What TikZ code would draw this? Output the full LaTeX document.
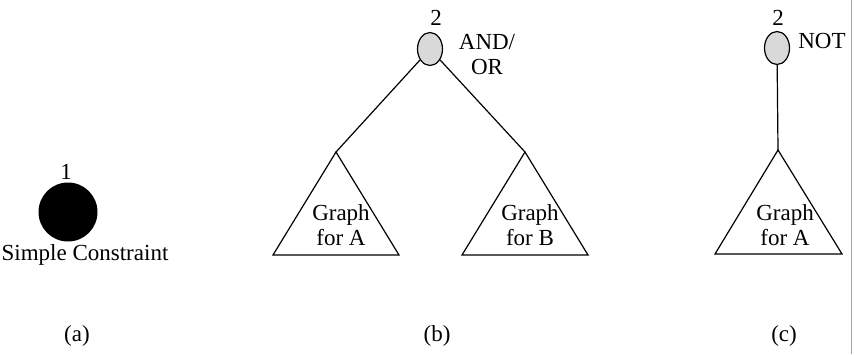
\documentclass[tikz,border=0pt]{standalone}
\usepackage{fontspec}
\setmainfont{Liberation Serif}
\usetikzlibrary{shapes.geometric}

\begin{document}
\begin{tikzpicture}[x=0.5pt,y=-0.5pt,line width=0.6pt,font=\fontsize{11.5}{12.5}\selectfont,
  opnode/.style={ellipse,draw,fill=gray!30,minimum width=12.5pt,minimum height=16.5pt,inner sep=0pt},
  graphlbl/.style={align=center,inner sep=0pt}]
  \useasboundingbox (0,0) rectangle (855,354);
  % (a) simple constraint
  \node[circle,fill=black,minimum size=29.5pt,inner sep=0pt] (simple) at (68,212) {};
  \node (numa) at (66,172) {1};
  \node (simplelbl) at (85,255) {Simple Constraint};
  \node (capa) at (77,336) {(a)};
  % (b) and/or over two sub-graphs
  \node[opnode] (andor) at (430,49) {};
  \node (numb) at (436,18) {2};
  \node[graphlbl] (andorlbl) at (487,55) {AND/\\OR};
  \coordinate (topA) at (336,152);
  \coordinate (topB) at (525,152);
  \draw (andor) -- (topA);
  \draw (andor) -- (topB);
  \draw (topA) -- ++(-63,103) -- ++(126,0) -- cycle;
  \draw (topB) -- ++(-63,103) -- ++(126,0) -- cycle;
  \node[graphlbl] (graphA) at (341,225) {Graph\\for A};
  \node[graphlbl] (graphB) at (530,225) {Graph\\for B};
  \node (capb) at (437,336) {(b)};
  % (c) not over one sub-graph
  \node[opnode] (notop) at (777,48) {};
  \node (numc) at (778,18) {2};
  \node (notlbl) at (822,41) {NOT};
  \coordinate (topC) at (778,150);
  \draw (notop) -- (topC);
  \draw (topC) -- ++(-63,104) -- ++(127,0) -- cycle;
  \node[graphlbl] (graphC) at (785,225) {Graph\\for A};
  \node (capc) at (784,336) {(c)};
  % scan edge
  \draw[gray!70,line width=0.4pt] (851,0) -- (851,354);
\end{tikzpicture}
\end{document}
